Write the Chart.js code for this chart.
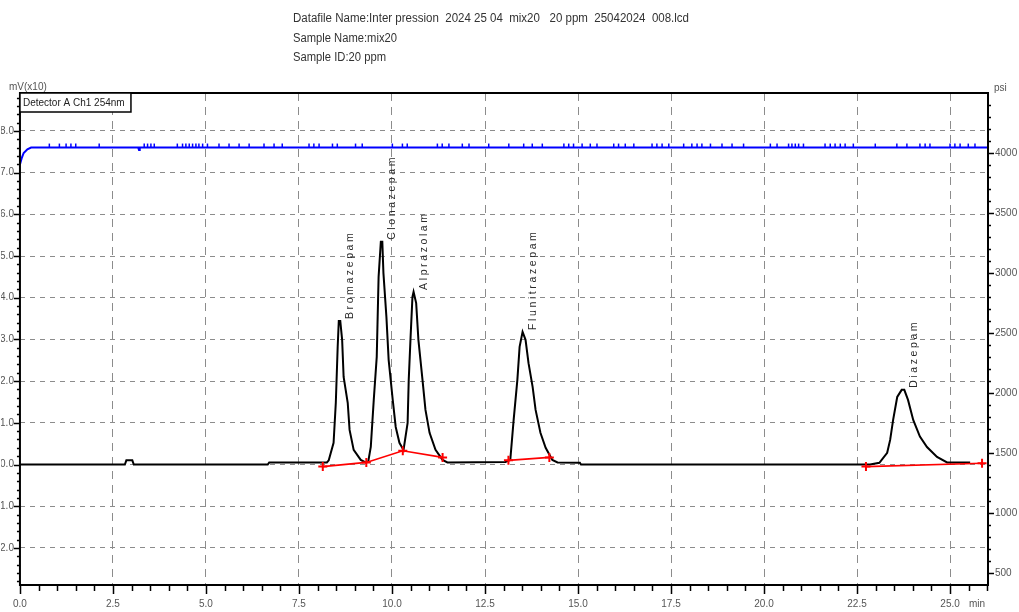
<!DOCTYPE html>
<html>
<head>
<meta charset="utf-8">
<script src="https://cdn.jsdelivr.net/npm/chart.js@4.4.1/dist/chart.umd.min.js"></script>
<style>
  html, body { margin: 0; padding: 0; background: #fff; }
  #wrap { width: 1019px; height: 612px; }
</style>
</head>
<body>
<div id="wrap"><canvas id="chromChart" width="1019" height="612"></canvas></div>
<script>
// detector A signal, mV(x10) against retention time (min)
const sigTime = [
  0, 2.82, 2.86, 3.02, 3.06, 6.66, 6.70, 8.25, 8.30, 8.43, 8.49, 8.54, 8.57, 8.61, 8.66, 8.70,
  8.81, 8.86, 8.97, 9.16, 9.29, 9.36, 9.43, 9.51, 9.59, 9.64, 9.70, 9.74, 9.77, 9.85, 9.91,
  10.02, 10.10, 10.20, 10.31, 10.42, 10.45, 10.50, 10.55, 10.58, 10.65, 10.71, 10.82, 10.90,
  11.01, 11.17, 11.36, 11.49, 13.05, 13.18, 13.27, 13.37, 13.43, 13.51, 13.59, 13.67, 13.78,
  13.86, 13.99, 14.13, 14.31, 14.45, 15.05, 15.08, 22.85, 23.10, 23.31, 23.39, 23.47, 23.58,
  23.70, 23.77, 23.87, 24.01, 24.19, 24.38, 24.65, 24.92, 25.54
];
const sigValue = [
  0, 0, 0.10, 0.10, 0, 0, 0.05, 0.05, 0.10, 0.52, 1.48, 2.82, 3.44, 3.44, 2.99, 2.10,
  1.48, 0.83, 0.35, 0.11, 0.05, 0.06, 0.42, 1.55, 2.58, 4.50, 5.34, 5.34, 4.59, 3.54, 2.51,
  1.55, 0.90, 0.52, 0.35, 1.00, 2.03, 3.06, 4.02, 4.14, 3.87, 2.99, 2.03, 1.31,
  0.76, 0.35, 0.11, 0.05, 0.06, 0.11, 1.07, 2.03, 2.82, 3.18, 2.99, 2.43, 1.86,
  1.31, 0.76, 0.40, 0.11, 0.05, 0.04, 0, 0, 0.04, 0.28, 0.59, 1.07, 1.62,
  1.79, 1.79, 1.55, 1.07, 0.67, 0.42, 0.18, 0.05, 0.05
];

// integration baselines (null = break between peak groups)
const baseTime = [8.14, 9.31, 10.29, 11.36, 12.2, 13.13, 14.23, 18.0, 22.74, 25.86];
const baseValue = [-0.05, 0.05, 0.33, 0.17, null, 0.10, 0.17, null, -0.05, 0.03];

// peak names and apex
const peakNames = ["Bromazepam", "Clonazepam", "Alprazolam", "Flunitrazepam", "Diazepam"];
const peakTime = [8.59, 9.72, 10.58, 13.51, 23.74];
const peakHeight = [3.44, 5.34, 4.14, 3.18, 1.79];

// pump pressure, psi
const pressTime = [0, 0.05, 0.10, 0.20, 0.30, 3.18, 3.20, 3.22, 26.02];
const pressValue = [3905, 3960, 4000, 4030, 4045, 4045, 4025, 4045, 4045];

// short pressure blips on the trace
const blipTime = [
  0.79, 1.06, 1.24, 1.37, 1.50, 2.13, 3.34, 3.43, 3.52, 3.61, 4.23, 4.37, 4.46, 4.55, 4.64,
  4.73, 4.81, 4.91, 5.04, 5.35, 5.62, 5.89, 6.16, 6.56, 6.83, 7.05, 7.77, 7.90, 8.04, 8.40,
  8.53, 9.02, 9.20, 10.01, 10.28, 10.41, 11.22, 11.35, 11.53, 11.89, 12.07, 12.60, 13.14,
  13.54, 13.77, 14.04, 14.62, 14.75, 14.88, 15.11, 15.33, 15.51, 15.96, 16.09, 16.27, 16.50,
  16.99, 17.12, 17.26, 17.44, 17.84, 18.06, 18.20, 18.33, 18.56, 18.87, 19.14, 19.45, 20.17,
  20.35, 20.66, 20.75, 20.84, 20.93, 21.06, 21.64, 21.78, 21.91, 22.05, 22.18, 22.40, 22.99,
  23.57, 23.84, 24.19, 24.33, 24.46, 25.00, 25.13, 25.27, 25.49, 25.67
];
const blipValue = [
  4062, 4062, 4062, 4062, 4062, 4062, 4062, 4062, 4062, 4062, 4062, 4062, 4062, 4062, 4062,
  4062, 4062, 4062, 4062, 4062, 4062, 4062, 4062, 4062, 4062, 4062, 4062, 4062, 4062, 4062,
  4062, 4062, 4062, 4062, 4062, 4062, 4062, 4062, 4062, 4062, 4062, 4062, 4062,
  4062, 4062, 4062, 4062, 4062, 4062, 4062, 4062, 4062, 4062, 4062, 4062, 4062,
  4062, 4062, 4062, 4062, 4062, 4062, 4062, 4062, 4062, 4062, 4062, 4062, 4062,
  4062, 4062, 4062, 4062, 4062, 4062, 4062, 4062, 4062, 4062, 4062, 4062, 4062,
  4062, 4062, 4062, 4062, 4062, 4062, 4062, 4062, 4062, 4062
];

// axis tick values
const timeTicks = [0, 2.5, 5, 7.5, 10, 12.5, 15, 17.5, 20, 22.5, 25];
const mvTicks = [-2, -1, 0, 1, 2, 3, 4, 5, 6, 7, 8];
const psiTicks = [500, 1000, 1500, 2000, 2500, 3000, 3500, 4000];

const headerLines = [
  "Datafile Name:Inter pression  2024 25 04  mix20   20 ppm  25042024  008.lcd",
  "Sample Name:mix20",
  "Sample ID:20 ppm"
];

const FONT = "'Liberation Sans', Arial, sans-serif";
Chart.defaults.font.family = FONT;

function pairs(xs, ys) {
  return xs.map((x, i) => ({ x: x, y: ys[i] }));
}

function fixedTicks(values) {
  return (scale) => { scale.ticks = values.map((v) => ({ value: v })); };
}

// frame, minor ticks, header and peak names
const decorPlugin = {
  id: "decor",
  afterDraw(chart) {
    const ctx = chart.ctx;
    const a = chart.chartArea;
    const xs = chart.scales.x, ys = chart.scales.y, y2 = chart.scales.y2;
    ctx.save();

    // peak names, written upward beside each apex
    ctx.fillStyle = "#2a2a2a";
    ctx.font = "10.5px " + FONT;
    ctx.textBaseline = "middle";
    peakNames.forEach((name, i) => {
      const px = xs.getPixelForValue(peakTime[i]) + 11;
      const py = ys.getPixelForValue(peakHeight[i]) - 2;
      ctx.save();
      ctx.translate(px, py);
      ctx.rotate(-Math.PI / 2);
      let cx = 0;
      for (const ch of name) {
        ctx.fillText(ch, cx, 0);
        cx += ctx.measureText(ch).width + 2.6;
      }
      ctx.restore();
    });

    // axis ticks
    ctx.strokeStyle = "#000";
    ctx.lineWidth = 1.5;
    ctx.beginPath();
    for (let k = -14; k <= 44; k++) {
      const py = Math.round(ys.getPixelForValue(k / 5)) + 0.5;
      const len = k % 5 === 0 ? 6 : 3;
      ctx.moveTo(a.left, py);
      ctx.lineTo(a.left - len, py);
    }
    for (let k = 5; k <= 44; k++) {
      const py = Math.round(y2.getPixelForValue(k * 100)) + 0.5;
      const len = k % 5 === 0 ? 6 : 3;
      ctx.moveTo(a.right, py);
      ctx.lineTo(a.right + len, py);
    }
    for (let k = 0; k <= 52; k++) {
      const px = Math.round(xs.getPixelForValue(k / 2)) + 0.5;
      const len = k % 5 === 0 ? 9 : 6;
      ctx.moveTo(px, a.bottom);
      ctx.lineTo(px, a.bottom + len);
    }
    ctx.stroke();

    // plot frame
    ctx.lineWidth = 2;
    ctx.strokeRect(a.left, a.top, a.right - a.left, a.bottom - a.top);

    // detector legend box
    ctx.lineWidth = 1.5;
    ctx.fillStyle = "#fff";
    ctx.fillRect(a.left, a.top, 111, 19);
    ctx.strokeRect(a.left, a.top, 111, 19);
    ctx.fillStyle = "#222";
    ctx.font = "10px " + FONT;
    ctx.textAlign = "left";
    ctx.fillText("Detector A Ch1 254nm", a.left + 3, a.top + 10, 105);

    // axis units
    ctx.fillStyle = "#555";
    ctx.font = "10px " + FONT;
    ctx.fillText("mV(x10)", 9, 87, 40);
    ctx.fillText("psi", 994, 88);
    ctx.fillText("min", 969, 604);

    // file header
    ctx.fillStyle = "#333";
    ctx.font = "12.5px " + FONT;
    const widths = [396, 104, 93];
    const rows = [19, 39, 58];
    headerLines.forEach((t, i) => ctx.fillText(t, 293, rows[i], widths[i]));

    ctx.restore();
  }
};

const tickFont = { family: FONT, size: 10 };

new Chart(document.getElementById("chromChart"), {
  type: "line",
  data: {
    datasets: [
      {
        label: "Baseline",
        data: pairs(baseTime, baseValue),
        yAxisID: "y",
        borderColor: "#ff0000",
        borderWidth: 1.6,
        pointStyle: "cross",
        pointRadius: 4.5,
        pointBorderWidth: 2,
        pointBorderColor: "#ff0000",
        spanGaps: false,
        order: 0
      },
      {
        label: "Detector A",
        data: pairs(sigTime, sigValue),
        yAxisID: "y",
        borderColor: "#000",
        borderWidth: 2,
        pointRadius: 0,
        order: 1
      },
      {
        label: "Pressure",
        data: pairs(pressTime, pressValue),
        yAxisID: "y2",
        borderColor: "#0000ff",
        borderWidth: 2,
        pointRadius: 0,
        order: 2
      },
      {
        label: "Pressure blips",
        data: pairs(blipTime, blipValue),
        yAxisID: "y2",
        showLine: false,
        pointStyle: "line",
        rotation: 90,
        pointRadius: 2,
        pointBorderWidth: 1.5,
        pointBorderColor: "#0000ff",
        order: 3
      }
    ]
  },
  options: {
    responsive: false,
    animation: false,
    events: [],
    layout: { padding: { top: 93, left: 0, right: 0, bottom: 0 } },
    elements: { line: { tension: 0 } },
    plugins: { legend: { display: false }, tooltip: { enabled: false } },
    scales: {
      x: {
        type: "linear",
        min: 0,
        max: 26.02,
        afterFit: (s) => { s.height = 27; },
        afterBuildTicks: fixedTicks(timeTicks),
        ticks: {
          autoSkip: false,
          maxRotation: 0,
          padding: 13,
          color: "#555",
          font: tickFont,
          callback: (v) => v.toFixed(1)
        },
        grid: { color: "#8c8c8c", lineWidth: 1, drawTicks: false },
        border: { display: false, dash: [8, 6] }
      },
      y: {
        position: "left",
        min: -2.89,
        max: 8.91,
        afterFit: (s) => { s.width = 19; },
        afterBuildTicks: fixedTicks(mvTicks),
        ticks: {
          autoSkip: false,
          padding: 6,
          color: "#555",
          font: tickFont,
          callback: (v) => v.toFixed(1)
        },
        grid: { color: "#8c8c8c", lineWidth: 1, drawTicks: false },
        border: { display: false, dash: [5, 5] }
      },
      y2: {
        position: "right",
        min: 400,
        max: 4500,
        afterFit: (s) => { s.width = 31; },
        afterBuildTicks: fixedTicks(psiTicks),
        ticks: {
          autoSkip: false,
          padding: 7,
          color: "#555",
          font: tickFont,
          callback: (v) => String(v)
        },
        grid: { drawOnChartArea: false, drawTicks: false },
        border: { display: false }
      }
    }
  },
  plugins: [decorPlugin]
});
</script>
</body>
</html>
